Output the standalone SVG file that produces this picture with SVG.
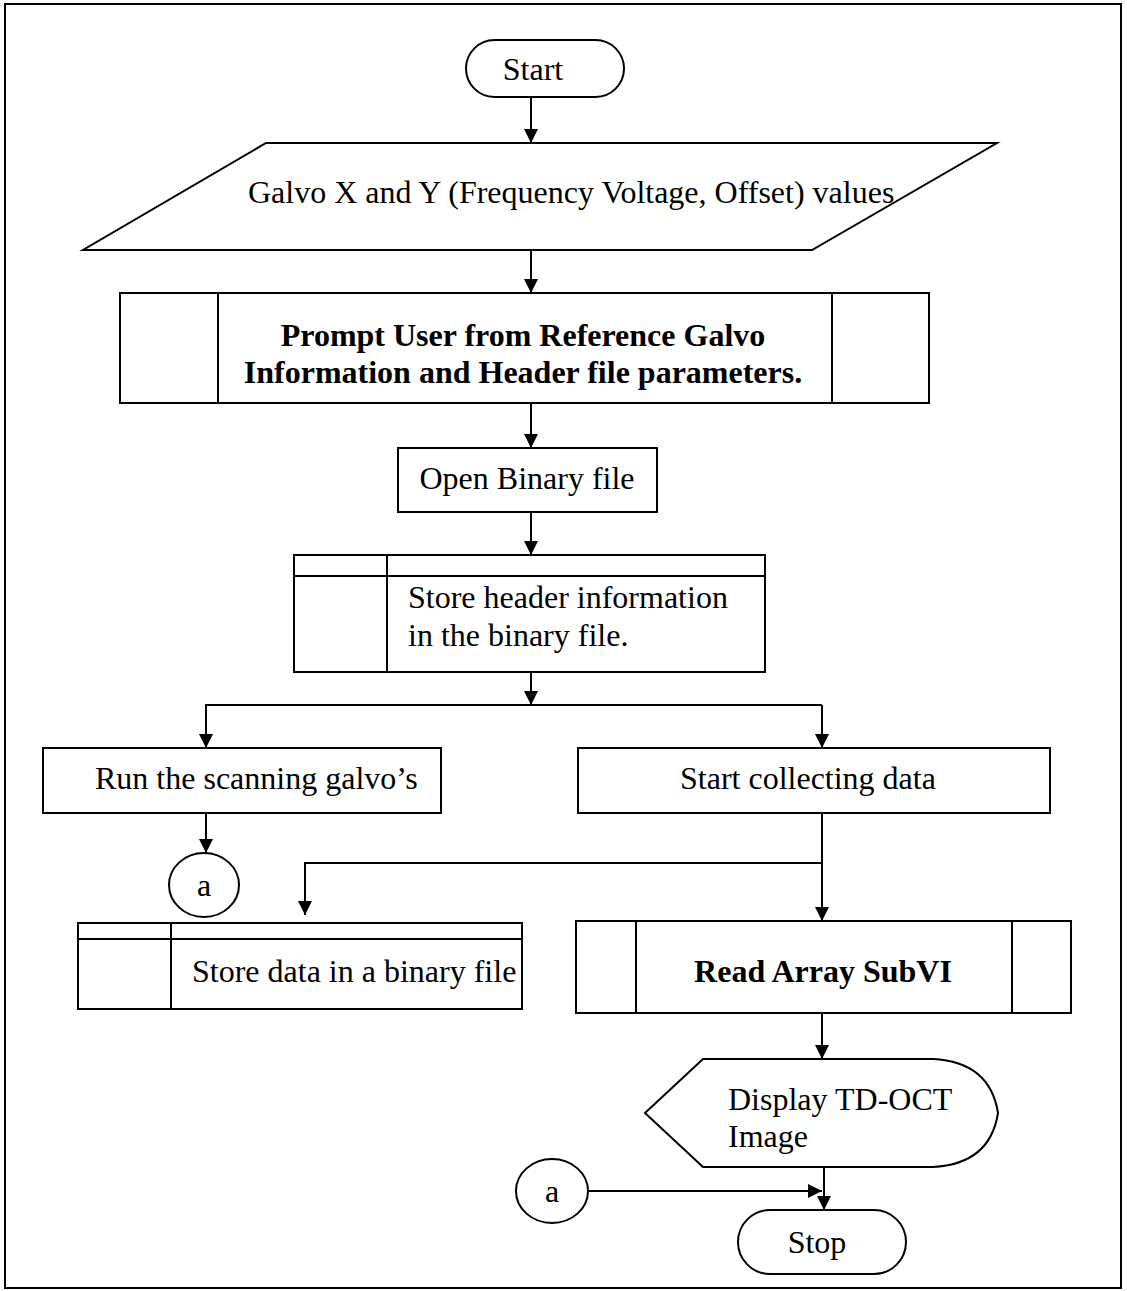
<svg xmlns="http://www.w3.org/2000/svg" width="1127" height="1291" viewBox="0 0 1127 1291">
  <defs>
    <marker id="arrow" viewBox="0 0 10 10" refX="10" refY="5" markerWidth="14" markerHeight="15" markerUnits="userSpaceOnUse" orient="auto">
      <path d="M0,0 L10,5 L0,10 z" fill="#000"/>
    </marker>
    <style>
      .shape { fill: #fff; stroke: #000; stroke-width: 2; }
      .rule { fill: none; stroke: #000; stroke-width: 2; }
      .conn { fill: none; stroke: #000; stroke-width: 2; }
      .arr { marker-end: url(#arrow); }
      text { font-family: "Liberation Serif", "Times New Roman", serif; font-size: 32px; fill: #000; }
      .mid { text-anchor: middle; }
      .bold { font-weight: bold; }
    </style>
  </defs>

  <rect width="1127" height="1291" fill="#fff"/>
  <!-- page frame -->
  <rect x="5" y="4" width="1116" height="1284" fill="none" stroke="#000" stroke-width="2"/>

  <!-- connectors -->
  <g id="connectors">
    <line class="conn arr" x1="531" y1="97" x2="531" y2="143"/>
    <line class="conn arr" x1="531" y1="250" x2="531" y2="293"/>
    <line class="conn arr" x1="531" y1="403" x2="531" y2="448"/>
    <line class="conn arr" x1="531" y1="512" x2="531" y2="555"/>
    <line class="conn arr" x1="531" y1="672" x2="531" y2="705"/>
    <polyline class="conn arr" points="822,705 206,705 206,748"/>
    <line class="conn arr" x1="822" y1="705" x2="822" y2="748"/>
    <line class="conn arr" x1="206" y1="813" x2="206" y2="853"/>
    <line class="conn arr" x1="822" y1="813" x2="822" y2="921"/>
    <polyline class="conn arr" points="822,863 305,863 305,915"/>
    <line class="conn arr" x1="822" y1="1013" x2="822" y2="1059"/>
    <line class="conn arr" x1="824" y1="1167" x2="824" y2="1210"/>
    <line class="conn arr" x1="588" y1="1191" x2="822" y2="1191"/>
  </g>

  <g id="start">
    <rect class="shape" x="466" y="40" width="158" height="57" rx="28.5"/>
    <text class="mid" x="533" y="80">Start</text>
  </g>

  <g id="galvo-input">
    <polygon class="shape" points="266,143 997,143 812,250 83,250"/>
    <text x="248" y="203">Galvo X and Y (Frequency Voltage, Offset) values</text>
  </g>

  <g id="prompt-user">
    <rect class="shape" x="120" y="293" width="809" height="110"/>
    <line class="rule" x1="218" y1="293" x2="218" y2="403"/>
    <line class="rule" x1="832" y1="293" x2="832" y2="403"/>
    <text class="mid bold" x="523" y="346">Prompt User from Reference Galvo</text>
    <text class="mid bold" x="523" y="383">Information and Header file parameters.</text>
  </g>

  <g id="open-binary">
    <rect class="shape" x="398" y="448" width="259" height="64"/>
    <text class="mid" x="527" y="489">Open Binary file</text>
  </g>

  <g id="store-header">
    <rect class="shape" x="294" y="555" width="471" height="117"/>
    <line class="rule" x1="294" y1="576" x2="765" y2="576"/>
    <line class="rule" x1="387" y1="555" x2="387" y2="672"/>
    <text x="408" y="608">Store header information</text>
    <text x="408" y="646">in the binary file.</text>
  </g>

  <g id="run-galvos">
    <rect class="shape" x="43" y="748" width="398" height="65"/>
    <text x="95" y="789">Run the scanning galvo’s</text>
  </g>

  <g id="start-collecting">
    <rect class="shape" x="578" y="748" width="472" height="65"/>
    <text x="680" y="789">Start collecting data</text>
  </g>

  <g id="connector-a-out">
    <ellipse class="shape" cx="204" cy="885" rx="35" ry="32"/>
    <text class="mid" x="204" y="896">a</text>
  </g>

  <g id="store-data">
    <rect class="shape" x="78" y="923" width="444" height="86"/>
    <line class="rule" x1="78" y1="939" x2="522" y2="939"/>
    <line class="rule" x1="171" y1="923" x2="171" y2="1009"/>
    <text x="192" y="982">Store data in a binary file</text>
  </g>

  <g id="read-array">
    <rect class="shape" x="576" y="921" width="495" height="92"/>
    <line class="rule" x1="636" y1="921" x2="636" y2="1013"/>
    <line class="rule" x1="1012" y1="921" x2="1012" y2="1013"/>
    <text class="mid bold" x="823" y="982">Read Array SubVI</text>
  </g>

  <g id="display-image">
    <path class="shape" d="M645,1113 L703,1059 L933,1059 Q990,1062 998,1113 Q990,1164 933,1167 L703,1167 Z"/>
    <text x="728" y="1110">Display TD-OCT</text>
    <text x="728" y="1147">Image</text>
  </g>

  <g id="connector-a-in">
    <ellipse class="shape" cx="552" cy="1191" rx="36" ry="32"/>
    <text class="mid" x="552" y="1202">a</text>
  </g>

  <g id="stop">
    <rect class="shape" x="738" y="1210" width="168" height="64" rx="32"/>
    <text class="mid" x="817" y="1253">Stop</text>
  </g>
</svg>
